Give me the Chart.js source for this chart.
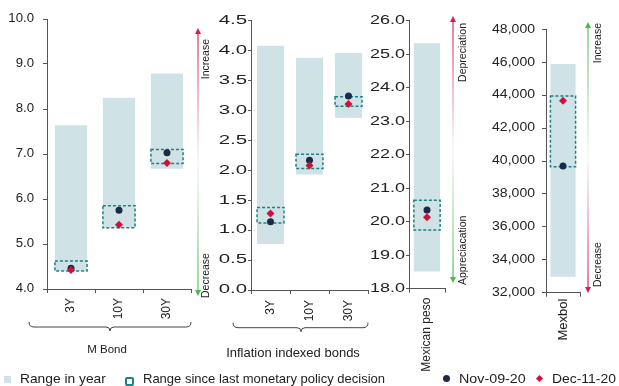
<!DOCTYPE html>
<html>
<head>
<meta charset="utf-8">
<script src="https://cdn.jsdelivr.net/npm/chart.js@4.4.1/dist/chart.umd.min.js"></script>
<style>
  body { margin: 0; background: #fff; width: 619px; height: 386px; overflow: hidden; position: relative;
         font-family: "Liberation Sans", Arial, sans-serif; color: #222; }
  canvas { position: absolute; left: 0; top: 0; }
  .mk { position: absolute; }
  .lt { position: absolute; top: 371px; font-size: 13px; line-height: 15px; white-space: nowrap; transform-origin: left center; }
</style>
</head>
<body>
<canvas id="mbond" width="619" height="372"></canvas>
<canvas id="udi" width="619" height="372"></canvas>
<canvas id="peso" width="619" height="372"></canvas>
<canvas id="mexbol" width="619" height="372"></canvas>

<div class="mk" style="left:4px;top:376px;width:7px;height:7px;background:#cfe2e6"></div>
<div class="lt" style="left:20px;transform:scaleX(1.06)">Range in year</div>
<div class="mk" style="left:125px;top:377px;width:5px;height:5px;border:2px solid #1f8087;border-radius:2px"></div>
<div class="lt" style="left:143px">Range since last monetary policy decision</div>
<div class="mk" style="left:443px;top:375px;width:7px;height:7px;border-radius:50%;background:#1b2a47"></div>
<div class="lt" style="left:459px;transform:scaleX(1.1)">Nov-09-20</div>
<div class="mk" style="left:537px;top:376px;width:5px;height:5px;background:#d0103a;transform:rotate(45deg)"></div>
<div class="lt" style="left:552px;transform:scaleX(1.07)">Dec-11-20</div>

<script>
// M Bond yields (%)
const mBondCats = ['3Y', '10Y', '30Y'];
const mBondYearLow = [4.40, 5.36, 6.67];
const mBondYearHigh = [7.64, 8.25, 8.79];
const mBondSinceLow = [4.40, 5.36, 6.79];
const mBondSinceHigh = [4.62, 5.85, 7.10];
const mBondNov = [4.46, 5.75, 7.03];
const mBondDec = [4.42, 5.43, 6.80];

// Inflation indexed bonds (%)
const udiCats = ['3Y', '10Y', '30Y'];
const udiYearLow = [0.77, 1.93, 2.88];
const udiYearHigh = [4.08, 3.88, 3.96];
const udiSinceLow = [1.12, 2.03, 3.07];
const udiSinceHigh = [1.38, 2.27, 3.23];
const udiNov = [1.14, 2.17, 3.24];
const udiDec = [1.28, 2.08, 3.11];

// Mexican peso (USD/MXN)
const pesoCats = ['Mexican peso'];
const pesoYearLow = [18.51];
const pesoYearHigh = [25.33];
const pesoSinceLow = [19.75];
const pesoSinceHigh = [20.64];
const pesoNov = [20.35];
const pesoDec = [20.13];

// Mexbol index
const mexbolCats = ['Mexbol'];
const mexbolYearLow = [32970];
const mexbolYearHigh = [45890];
const mexbolSinceLow = [39650];
const mexbolSinceHigh = [43950];
const mexbolNov = [39700];
const mexbolDec = [43660];

const FONT = '"Liberation Sans", Arial, sans-serif';
const RED = '#d4204e';
const GREEN = '#4cbb4c';

function zip(lo, hi) {
    return lo.map((v, i) => [v, hi[i]]);
}

function vtext(ctx, txt, x, y, align) {
    ctx.save();
    ctx.translate(x, y);
    ctx.rotate(-Math.PI / 2);
    ctx.textAlign = align;
    ctx.textBaseline = 'middle';
    ctx.fillText(txt, 0, 0);
    ctx.restore();
}

function drawArrow(ctx, a) {
    const g = ctx.createLinearGradient(0, a.y1, 0, a.y2);
    g.addColorStop(0, a.top);
    g.addColorStop(0.5, '#f6f6f6');
    g.addColorStop(1, a.bottom);
    ctx.save();
    ctx.strokeStyle = g;
    ctx.lineWidth = 1.2;
    ctx.beginPath();
    ctx.moveTo(a.x, a.y1 + 5);
    ctx.lineTo(a.x, a.y2 - 5);
    ctx.stroke();
    ctx.fillStyle = a.top;
    ctx.beginPath();
    ctx.moveTo(a.x, a.y1);
    ctx.lineTo(a.x - 3, a.y1 + 6);
    ctx.lineTo(a.x + 3, a.y1 + 6);
    ctx.fill();
    ctx.fillStyle = a.bottom;
    ctx.beginPath();
    ctx.moveTo(a.x, a.y2);
    ctx.lineTo(a.x - 3, a.y2 - 6);
    ctx.lineTo(a.x + 3, a.y2 - 6);
    ctx.fill();
    ctx.fillStyle = '#222';
    ctx.font = '10.5px ' + FONT;
    vtext(ctx, a.topText, a.textX, a.topTextY, 'right');
    vtext(ctx, a.bottomText, a.textX, a.bottomTextY, 'left');
    ctx.restore();
}

function drawBrace(ctx, b) {
    const y = b.y;
    ctx.save();
    ctx.strokeStyle = '#444';
    ctx.lineWidth = 1;
    ctx.beginPath();
    ctx.moveTo(b.x1, y - 5);
    ctx.quadraticCurveTo(b.x1, y, b.x1 + 5, y);
    ctx.lineTo(b.xm - 4, y);
    ctx.quadraticCurveTo(b.xm, y, b.xm, y + 4);
    ctx.quadraticCurveTo(b.xm, y, b.xm + 4, y);
    ctx.lineTo(b.x2 - 5, y);
    ctx.quadraticCurveTo(b.x2, y, b.x2, y - 5);
    ctx.stroke();
    ctx.fillStyle = '#222';
    ctx.font = b.size + 'px ' + FONT;
    ctx.textAlign = 'center';
    ctx.textBaseline = 'middle';
    ctx.fillText(b.label, b.labelX, b.labelY);
    ctx.restore();
}

// per-panel drawing: dashed boxes, stretched y labels, arrows and braces
function extras(cfg) {
    return {
        id: 'extras',
        afterDatasetDraw(chart, args) {
            if (args.index !== 1) return;
            const ctx = chart.ctx;
            ctx.save();
            ctx.strokeStyle = '#1f8087';
            ctx.lineWidth = 1.5;
            ctx.setLineDash([3, 2]);
            args.meta.data.forEach(el => {
                const p = el.getProps(['x', 'y', 'base', 'width'], true);
                ctx.strokeRect(p.x - p.width / 2, Math.min(p.y, p.base), p.width, Math.abs(p.base - p.y));
            });
            ctx.restore();
        },
        afterDraw(chart) {
            const ctx = chart.ctx;
            const ys = chart.scales.y;
            ctx.save();
            ctx.fillStyle = '#222';
            ctx.font = '12px ' + FONT;
            ctx.textAlign = 'right';
            ctx.textBaseline = 'middle';
            ys.ticks.forEach(t => {
                ctx.save();
                ctx.translate(ys.right - cfg.labelGap, ys.getPixelForValue(t.value));
                ctx.scale(cfg.stretch, 1);
                ctx.fillText(cfg.fmt(t.value), 0, 0);
                ctx.restore();
            });
            ctx.restore();
            if (cfg.arrow) drawArrow(ctx, cfg.arrow);
            if (cfg.brace) drawBrace(ctx, cfg.brace);
        }
    };
}

function makePanel(id, d, p) {
    const yW = 40;
    return new Chart(document.getElementById(id), {
        type: 'bar',
        data: {
            labels: d.cats,
            datasets: [
                { label: 'Range in year', data: zip(d.yearLow, d.yearHigh), backgroundColor: '#cfe2e6',
                  grouped: false, barPercentage: p.barPct, categoryPercentage: 1, order: 3 },
                { label: 'Range since last monetary policy decision', data: zip(d.sinceLow, d.sinceHigh),
                  backgroundColor: 'rgba(0,0,0,0)', grouped: false, barPercentage: p.barPct, categoryPercentage: 1, order: 2 },
                { type: 'line', label: 'Nov-09-20', data: d.nov, showLine: false, pointStyle: 'circle', pointRadius: 3.5,
                  backgroundColor: '#1b2a47', borderColor: '#1b2a47', borderWidth: 0, order: 1 },
                { type: 'line', label: 'Dec-11-20', data: d.dec, showLine: false, pointStyle: 'rectRot', pointRadius: 4,
                  backgroundColor: '#d0103a', borderColor: '#d0103a', borderWidth: 0, order: 0 }
            ]
        },
        options: {
            responsive: false,
            animation: false,
            layout: { padding: { top: p.top, left: p.axisL - yW, right: 619 - p.axisR, bottom: 0 } },
            plugins: { legend: { display: false }, tooltip: { enabled: false } },
            scales: {
                x: {
                    grid: { drawOnChartArea: false, tickLength: 4, color: '#555' },
                    border: { color: '#555' },
                    ticks: { minRotation: 90, maxRotation: 90, autoSkip: false, padding: p.xPad, color: '#222',
                             font: { family: FONT, size: p.xFont || 12 } },
                    afterFit: s => { s.height = 372 - p.bottom; }
                },
                y: {
                    min: p.min, max: p.max,
                    ticks: { stepSize: p.step, display: false },
                    grid: { drawOnChartArea: false, tickLength: p.yTick, color: '#555' },
                    border: { color: '#555' },
                    afterFit: s => { s.width = yW; }
                }
            }
        },
        plugins: [extras(p)]
    });
}

const oneDec = v => v.toFixed(1);

makePanel('mbond',
    { cats: mBondCats, yearLow: mBondYearLow, yearHigh: mBondYearHigh, sinceLow: mBondSinceLow,
      sinceHigh: mBondSinceHigh, nov: mBondNov, dec: mBondDec },
    { axisL: 47, axisR: 191, top: 19, bottom: 289, min: 4, max: 10, step: 1, barPct: 0.67, xPad: 5, yTick: 4,
      labelGap: 13, stretch: 1.1, fmt: oneDec,
      arrow: { x: 198, y1: 28, y2: 296, top: RED, bottom: GREEN, topText: 'Increase', bottomText: 'Decrease',
               textX: 206, topTextY: 39, bottomTextY: 298 },
      brace: { x1: 29, x2: 191, xm: 110, y: 327, label: 'M Bond', labelX: 107, labelY: 350, size: 11.5 } });

makePanel('udi',
    { cats: udiCats, yearLow: udiYearLow, yearHigh: udiYearHigh, sinceLow: udiSinceLow,
      sinceHigh: udiSinceHigh, nov: udiNov, dec: udiDec },
    { axisL: 251, axisR: 368, top: 20.7, bottom: 290, min: 0, max: 4.5, step: 0.5, barPct: 0.69, xPad: 6, yTick: 3,
      labelGap: 4, stretch: 1.7, fmt: oneDec,
      brace: { x1: 233, x2: 368, xm: 301, y: 327.7, label: 'Inflation indexed bonds', labelX: 293, labelY: 353, size: 13 } });

makePanel('peso',
    { cats: pesoCats, yearLow: pesoYearLow, yearHigh: pesoYearHigh, sinceLow: pesoSinceLow,
      sinceHigh: pesoSinceHigh, nov: pesoNov, dec: pesoDec },
    { axisL: 409, axisR: 445, top: 20.7, bottom: 288.7, min: 18, max: 26, step: 1, barPct: 0.73, xPad: 5, yTick: 3,
      labelGap: 4, stretch: 1.5, fmt: oneDec,
      arrow: { x: 453, y1: 16, y2: 283, top: RED, bottom: GREEN, topText: 'Depreciation', bottomText: 'Appreciacation',
               textX: 463, topTextY: 23, bottomTextY: 285 } });

makePanel('mexbol',
    { cats: mexbolCats, yearLow: mexbolYearLow, yearHigh: mexbolYearHigh, sinceLow: mexbolSinceLow,
      sinceHigh: mexbolSinceHigh, nov: mexbolNov, dec: mexbolDec },
    { axisL: 546, axisR: 580, top: 29.3, bottom: 292.7, min: 32000, max: 48000, step: 2000, barPct: 0.74, xPad: 2,
      yTick: 4, xFont: 13, labelGap: 11, stretch: 1.17, fmt: v => v.toLocaleString('en-US'),
      arrow: { x: 588, y1: 22, y2: 293, top: GREEN, bottom: RED, topText: 'Increase', bottomText: 'Decrease',
               textX: 598, topTextY: 23, bottomTextY: 287 } });
</script>
</body>
</html>
